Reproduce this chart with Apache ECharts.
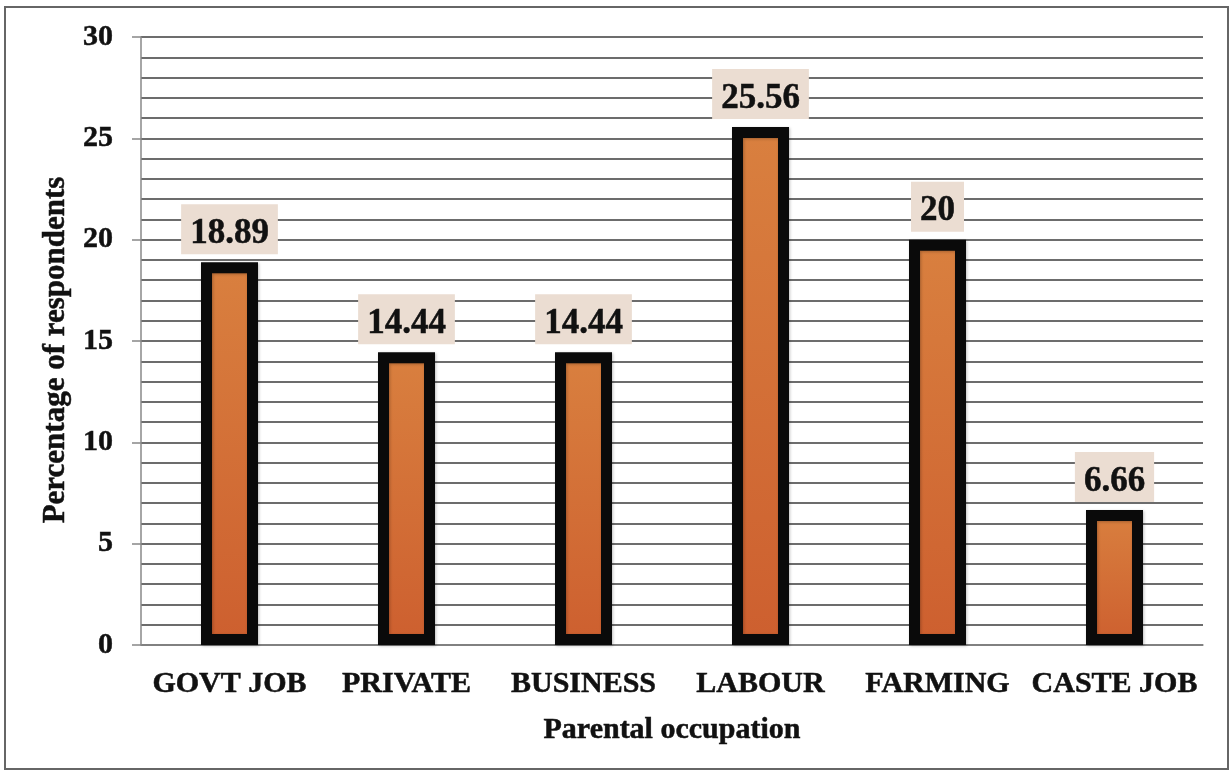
<!DOCTYPE html>
<html>
<head>
<meta charset="utf-8">
<title>Parental occupation</title>
<script src="https://cdn.jsdelivr.net/npm/echarts@6/dist/echarts.min.js"></script>
<style>
  html, body { margin: 0; padding: 0; background: #ffffff; }
  #chart { width: 1232px; height: 775px; }
</style>
</head>
<body>
<div id="chart"></div>
<script>
// Share of respondents by parental occupation (%)
const categories = ['GOVT JOB', 'PRIVATE', 'BUSINESS', 'LABOUR', 'FARMING', 'CASTE JOB'];
const percentages = [18.89, 14.44, 14.44, 25.56, 20, 6.66];
const valueLabels = ['18.89', '14.44', '14.44', '25.56', '20', '6.66'];

const serif = "'Liberation Serif', 'Times New Roman', serif";
const ink = '#111';
// thin outline of the text colour gives the heavier bold look
const heavy = { textBorderColor: ink, textBorderWidth: 0.5 };

const chart = echarts.init(document.getElementById('chart'), null, { renderer: 'canvas' });

chart.setOption({
  backgroundColor: '#ffffff',
  animation: false,
  graphic: [{
    type: 'rect',
    shape: { x: 5, y: 7, width: 1223, height: 762 },
    style: { fill: 'none', stroke: '#666', lineWidth: 2 },
    silent: true,
    z: -1
  }],
  grid: { left: 141, right: 29, top: 37, bottom: 130 },
  xAxis: {
    type: 'category',
    data: categories,
    name: 'Parental occupation',
    nameLocation: 'middle',
    nameGap: 70,
    nameTextStyle: Object.assign({ fontFamily: serif, fontWeight: 'bold', fontSize: 30, color: ink }, heavy),
    axisLine: { show: true, lineStyle: { color: '#888', width: 1.5 } },
    axisTick: { show: false },
    axisLabel: Object.assign({ interval: 0, margin: 24, fontFamily: serif, fontWeight: 'bold', fontSize: 30, color: ink }, heavy)
  },
  yAxis: {
    type: 'value',
    min: 0,
    max: 30,
    interval: 5,
    name: 'Percentage of respondents',
    nameLocation: 'middle',
    nameGap: 64,
    nameTextStyle: Object.assign({ fontFamily: serif, fontWeight: 'bold', fontSize: 31, color: ink, padding: [0, 18, 0, 0] }, heavy),
    axisLine: { show: true, lineStyle: { color: '#888', width: 1.5 } },
    axisTick: { show: true, length: 9, lineStyle: { color: '#888', width: 1.5 } },
    axisLabel: Object.assign({ margin: 28, fontFamily: serif, fontWeight: 'bold', fontSize: 30, color: ink }, heavy),
    splitLine: { show: true, lineStyle: { color: '#3c3c3c', width: 1.5 } },
    minorTick: { show: false, splitNumber: 5 },
    minorSplitLine: { show: true, lineStyle: { color: '#3c3c3c', width: 1.5 } }
  },
  series: [{
    type: 'bar',
    data: percentages,
    barWidth: 57,
    itemStyle: {
      color: new echarts.graphic.LinearGradient(0, 0, 0, 1, [
        { offset: 0, color: '#d9803f' },
        { offset: 1, color: '#cd5f2f' }
      ]),
      borderColor: '#0a0a0a',
      borderWidth: 11,
      shadowColor: 'rgba(0,0,0,0.25)',
      shadowBlur: 3,
      shadowOffsetX: 1,
      shadowOffsetY: 1
    },
    label: Object.assign({
      show: true,
      position: 'top',
      distance: 8,
      formatter: p => valueLabels[p.dataIndex],
      fontFamily: serif,
      fontWeight: 'bold',
      fontSize: 35,
      color: ink,
      backgroundColor: '#ebddd2',
      padding: [12, 9, 3, 9]
    }, heavy)
  }]
});
</script>
</body>
</html>
